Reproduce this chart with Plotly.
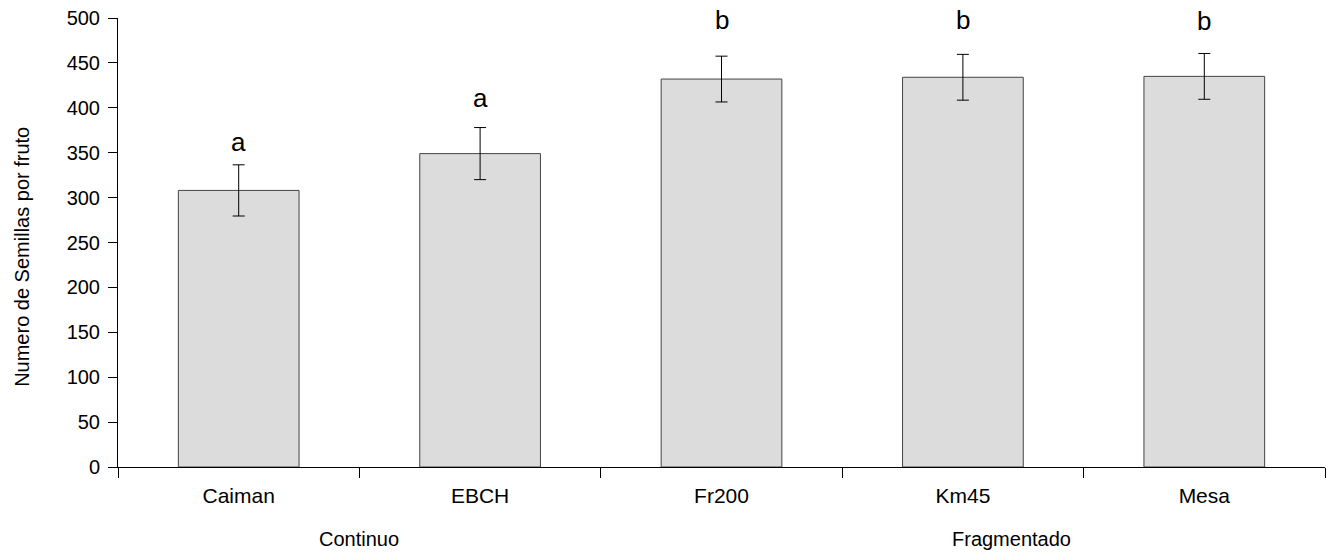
import plotly.graph_objects as go

categories = ["Caiman", "EBCH", "Fr200", "Km45", "Mesa"]
means = [308, 349, 432, 434, 435]
errors = [28.5, 29, 25.5, 25.5, 25.5]
letters = ["a", "a", "b", "b", "b"]
letter_y = [350, 398.5, 485.5, 485, 484.5]
groups = ["Continuo", "Fragmentado"]
group_x = [0.5, 3.2]
y_title = "Numero de Semillas por fruto"

FONT = "Liberation Sans, Arial, sans-serif"

fig = go.Figure()
fig.add_trace(go.Bar(
    x=categories, y=means,
    marker=dict(color="#dcdcdc", line=dict(color="#444444", width=1)),
    error_y=dict(type="data", array=errors, color="#000000", thickness=1, width=6),
    width=0.5,
))

for c, l, yy in zip(categories, letters, letter_y):
    fig.add_annotation(x=c, y=yy, text=l, showarrow=False, yanchor="bottom",
                       font=dict(family=FONT, size=26, color="#000"), yshift=-6)

for g, gx in zip(groups, group_x):
    fig.add_annotation(x=gx, xref="x", y=0, yref="paper", yshift=-72, yanchor="middle",
                       text=g, showarrow=False,
                       font=dict(family=FONT, size=20, color="#000"))

fig.add_annotation(x=0, xref="paper", xshift=-96, y=0.468, yref="paper",
                   text=y_title, textangle=-90, showarrow=False,
                   xanchor="center", yanchor="middle",
                   font=dict(family=FONT, size=20, color="#000"))

fig.update_layout(
    width=1335, height=555,
    margin=dict(l=118, r=10, t=18, b=88, autoexpand=False),
    plot_bgcolor="white", paper_bgcolor="white",
    showlegend=False,
    font=dict(family=FONT, color="#000"),
)
fig.update_xaxes(
    range=[-0.5, 4.5], showline=True, linecolor="#000", linewidth=1,
    ticks="outside", tickson="boundaries", ticklen=10, tickcolor="#000",
    ticklabelstandoff=10, automargin=False,
    tickfont=dict(family=FONT, size=21, color="#000"), showgrid=False,
)
fig.update_yaxes(
    range=[0, 500], dtick=50, showline=True, linecolor="#000", linewidth=1,
    ticks="outside", ticklen=9, tickcolor="#000", showgrid=False, zeroline=False,
    ticklabelstandoff=4, automargin=False,
    tickfont=dict(family=FONT, size=20, color="#000"),
)

fig.write_html("out.html")
